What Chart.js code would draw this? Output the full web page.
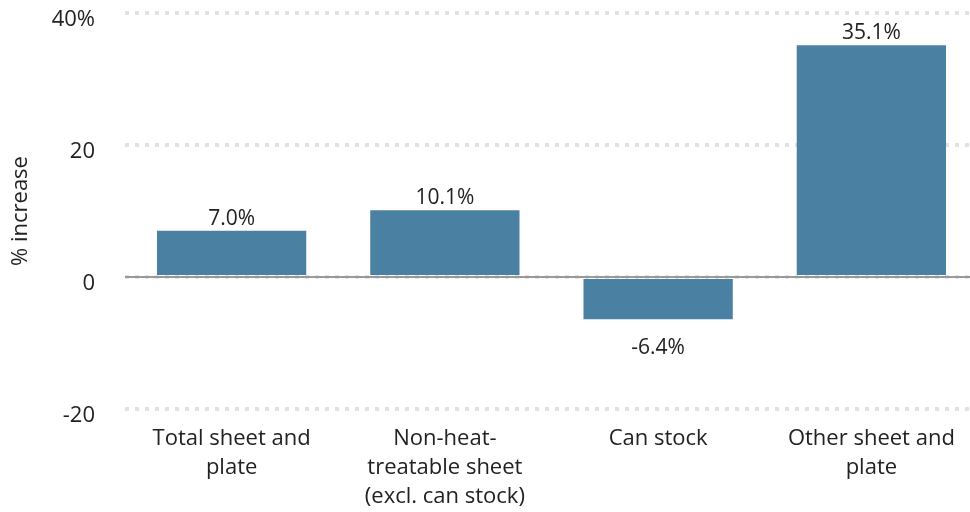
<!DOCTYPE html>
<html>
<head>
<meta charset="utf-8">
<script src="https://cdn.jsdelivr.net/npm/chart.js@4"></script>
<style>
  html, body { margin: 0; padding: 0; background: #fff; overflow: hidden; }
  #wrap { width: 978px; height: 512px; }
</style>
</head>
<body>
<div id="wrap"><canvas id="myChart"></canvas></div>
<script>
// categories and values
const categories = [
  ["Total sheet and", "plate"],
  ["Non-heat-", "treatable sheet", "(excl. can stock)"],
  ["Can stock"],
  ["Other sheet and", "plate"]
];
const increase = [7.0, 10.1, -6.4, 35.1];
const yTicks = [-20, 0, 20, 40];

const FONT = "'Open Sans', Lato, sans-serif";
const TEXT = "#222";

// gray line at zero, under the bars
const zeroLine = {
  id: "zeroLine",
  beforeDatasetsDraw(chart) {
    const { ctx, chartArea, scales } = chart;
    const y = scales.y.getPixelForValue(0);
    ctx.save();
    ctx.strokeStyle = "#999";
    ctx.lineWidth = 2;
    ctx.beginPath();
    ctx.moveTo(chartArea.left, y);
    ctx.lineTo(chartArea.right, y);
    ctx.stroke();
    ctx.restore();
  }
};

// value labels above / below each bar
const valueLabels = {
  id: "valueLabels",
  afterDatasetsDraw(chart) {
    const { ctx } = chart;
    const meta = chart.getDatasetMeta(0);
    ctx.save();
    ctx.font = "21px " + FONT;
    ctx.fillStyle = TEXT;
    ctx.textAlign = "center";
    ctx.textBaseline = "alphabetic";
    meta.data.forEach((bar, i) => {
      const v = increase[i];
      const txt = v.toFixed(1) + "%";
      ctx.fillText(txt, bar.x, v >= 0 ? bar.y - 6 : bar.y + 35);
    });
    ctx.restore();
  }
};

new Chart(document.getElementById("myChart").getContext("2d"), {
  type: "bar",
  data: {
    labels: categories,
    datasets: [{
      label: "% increase",
      data: increase,
      backgroundColor: "#4a80a2",
      categoryPercentage: 1,
      barPercentage: 0.7
    }]
  },
  options: {
    responsive: true,
    maintainAspectRatio: false,
    animation: false,
    layout: { autoPadding: false, padding: { top: 13, right: 0, left: 0, bottom: 0 } },
    plugins: {
      legend: { display: false },
      tooltip: { enabled: false }
    },
    scales: {
      x: {
        grid: { display: false },
        border: { display: false },
        ticks: {
          color: TEXT,
          font: { family: FONT, size: 22, lineHeight: 1.32 },
          maxRotation: 0,
          autoSkip: false,
          padding: 7
        },
        afterFit(scale) { scale.height = 103; }
      },
      y: {
        min: -20,
        max: 40,
        afterBuildTicks(scale) {
          scale.ticks = yTicks.map(v => ({ value: v }));
        },
        grid: {
          color: "#e2e2e2",
          lineWidth: 4,
          drawTicks: false
        },
        border: { display: false, dash: [4, 6] },
        ticks: {
          color: TEXT,
          font: { family: FONT, size: 22 },
          padding: 30,
          labelOffset: 7,
          callback: v => v === 40 ? "40%" : String(v)
        },
        title: {
          display: true,
          text: "% increase",
          color: TEXT,
          font: { family: FONT, size: 22 },
          padding: { top: 8, bottom: 0 }
        },
        afterFit(scale) {
          scale.width = 125;
          // tick padding should not push the plot area down
          scale.paddingTop = 0;
          scale.paddingBottom = 0;
        }
      }
    }
  },
  plugins: [zeroLine, valueLabels]
});
</script>
</body>
</html>
